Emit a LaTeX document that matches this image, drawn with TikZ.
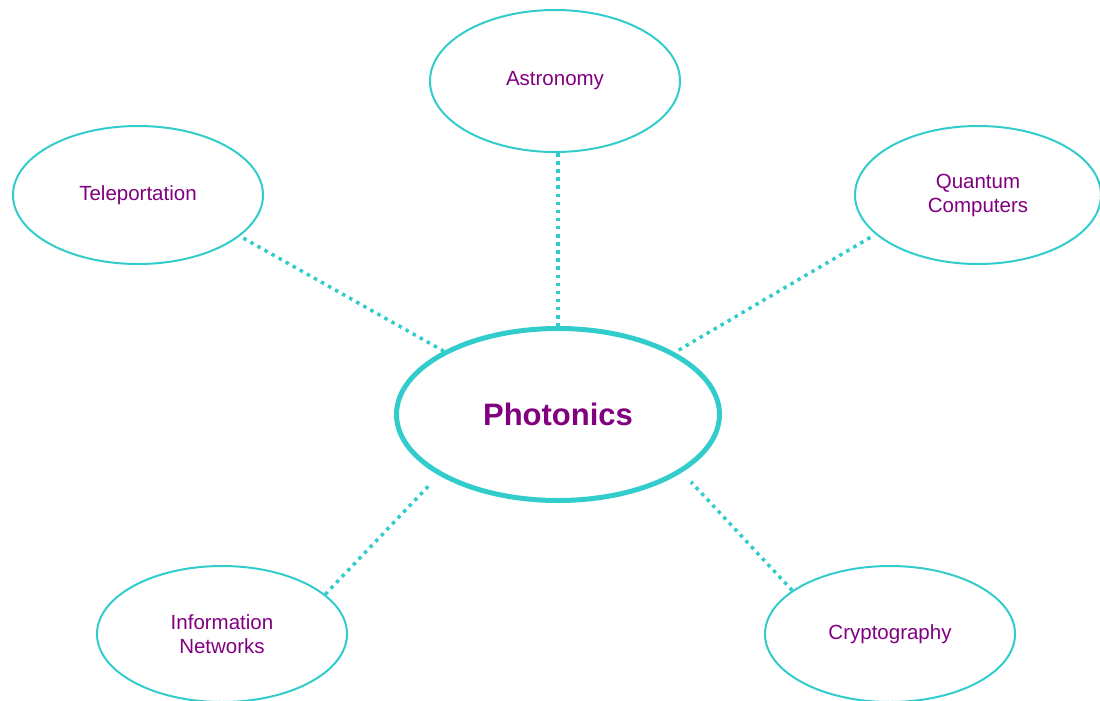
\documentclass[tikz,border=0pt]{standalone}
\usepackage{fontspec}
\setmainfont{Liberation Sans}
\usetikzlibrary{shapes.geometric}
\definecolor{turq}{HTML}{33CCCC}
\definecolor{purp}{HTML}{800080}
\tikzset{
  topic/.style={ellipse, draw=turq, line width=2pt, inner sep=0pt, text=purp,
    align=center, font=\fontsize{20.5}{24}\selectfont},
  hub/.style={ellipse, draw=turq, line width=5pt, inner sep=0pt, text=purp,
    font=\fontsize{31}{36}\selectfont\bfseries, minimum width=323pt, minimum height=172pt},
  link/.style={draw=turq, line width=3.5pt, dash pattern=on 3.5pt off 4.6pt}
}
\begin{document}
\begin{tikzpicture}[x=1pt,y=-1pt]
\useasboundingbox (0,0) rectangle (1100,701);
\clip (0,0) rectangle (1100,701);
\node[hub] (ph) at (558,414.5) {Photonics};
\node[topic, minimum width=250pt, minimum height=142pt] (astro) at (555,81) {Astronomy};
\node[topic, minimum width=250pt, minimum height=138pt] (tele) at (138,195) {Teleportation};
\node[topic, minimum width=246pt, minimum height=138pt] (quant) at (978,195) {Quantum\\Computers};
\node[topic, minimum width=250pt, minimum height=136pt] (info) at (222,634) {Information\\Networks};
\node[topic, minimum width=250pt, minimum height=136pt] (crypt) at (890,634) {Cryptography};
\draw[link] (ph.north |- astro.south) -- (ph.north);
\draw[link, shorten <=4pt] (tele.-22) -- (ph.151.5);
\draw[link, shorten <=6pt] (quant.201.7) -- (ph.28);
\draw[link, shorten >=12pt] (info.21) -- (ph.207);
\draw[link, shorten >=13pt] (crypt.156.3) -- (ph.-25.4);
\end{tikzpicture}
\end{document}
